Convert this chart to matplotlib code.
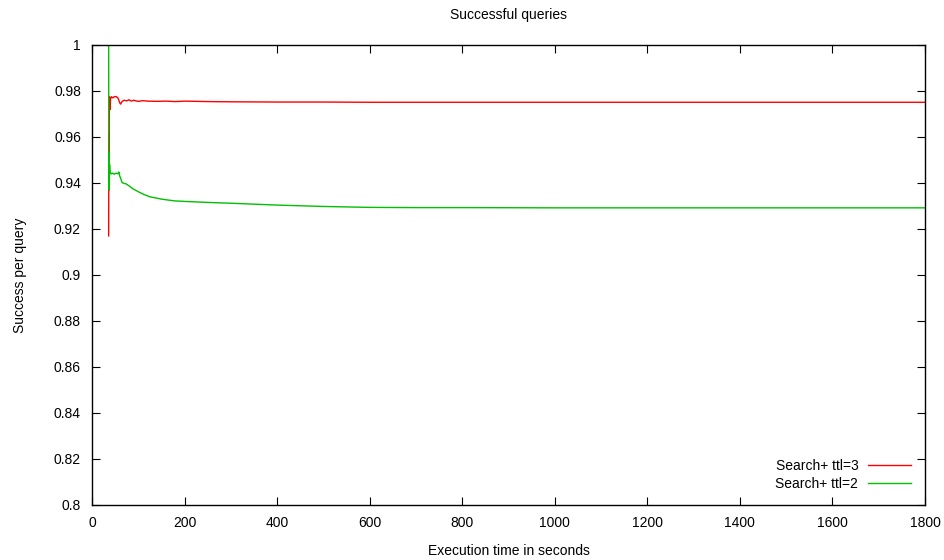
import matplotlib
matplotlib.use("Agg")
from matplotlib import pyplot as plt

plt.rcParams['font.family'] = ['Liberation Sans', 'DejaVu Sans']

# Search+ ttl=3 (red)
t_ttl3 = [36, 36.5, 37, 37.5, 38, 39, 40, 42, 45, 48, 52, 56, 58, 60, 62, 64, 67, 70,
          75, 80, 85, 90, 95, 100, 110, 120, 140, 160, 180, 200, 250, 300, 400,
          500, 600, 800, 1000, 1200, 1400, 1600, 1800]
s_ttl3 = [0.917, 0.962, 0.937, 0.976, 0.9775, 0.972, 0.9765, 0.9775, 0.9770, 0.9775,
          0.9776, 0.9770, 0.9760, 0.9748, 0.9743, 0.9752, 0.9757, 0.9760,
          0.9757, 0.9762, 0.9756, 0.9760, 0.9757, 0.9755, 0.9758, 0.9756, 0.9755,
          0.9756, 0.9754, 0.9756, 0.9754, 0.9753, 0.9752,
          0.9752, 0.9751, 0.9751, 0.9751, 0.9751, 0.9751, 0.9751, 0.9751]

# Search+ ttl=2 (green)
t_ttl2 = [36, 36.5, 37, 37.5, 38, 39, 40, 42, 45, 48, 52, 56, 58, 60, 62, 65, 67, 70,
          75, 78, 82, 88, 93, 100, 110, 125, 140, 150, 164, 180, 200, 244, 300,
          400, 500, 600, 700, 800, 1000, 1200, 1400, 1600, 1800]
s_ttl2 = [1.0, 0.937, 0.953, 0.940, 0.948, 0.944, 0.9445, 0.9440, 0.9443, 0.9438,
          0.9443, 0.9440, 0.9448, 0.9430, 0.9420, 0.9402, 0.9400, 0.9398,
          0.9395, 0.9390, 0.9385, 0.9375, 0.9370, 0.9362, 0.9352, 0.9340, 0.9334,
          0.9330, 0.9326, 0.9322, 0.9320, 0.9316, 0.9312,
          0.9304, 0.9298, 0.9294, 0.9293, 0.9293, 0.9292, 0.9292, 0.9292, 0.9292, 0.9292]

fig = plt.figure(figsize=(9.45, 5.6), dpi=100)
ax = fig.add_axes([92 / 945, 1 - 505 / 560, (925 - 92) / 945, (505 - 45) / 560])

ax.plot(t_ttl3, s_ttl3, color='#ff0000', linewidth=1, label='Search+ ttl=3')
ax.plot(t_ttl2, s_ttl2, color='#00c000', linewidth=1, label='Search+ ttl=2')

ax.set_xlim(0, 1800)
ax.set_ylim(0.8, 1.0)
ax.set_xticks(range(0, 1801, 200))
ax.set_yticks([0.8 + 0.02 * i for i in range(11)])
ax.set_yticklabels(['0.8', '0.82', '0.84', '0.86', '0.88', '0.9', '0.92', '0.94',
                    '0.96', '0.98', '1'])
ax.tick_params(direction='in', top=True, right=True, length=6, width=0.8,
               labelsize=10, pad=8)
for sp in ax.spines.values():
    sp.set_linewidth(1)

ax.set_title('Successful queries', fontsize=10, pad=19)
ax.set_xlabel('Execution time in seconds', fontsize=10, labelpad=10)
ax.set_ylabel('Success per query', fontsize=10)
ax.yaxis.set_label_coords((27 - 92) / 833, 0.5)

ax.legend(loc='lower right', frameon=False, fontsize=10, markerfirst=False,
          handlelength=3.1, handletextpad=0.7, borderaxespad=0.6, labelspacing=0.3)

plt.savefig('out.png', dpi=100)
